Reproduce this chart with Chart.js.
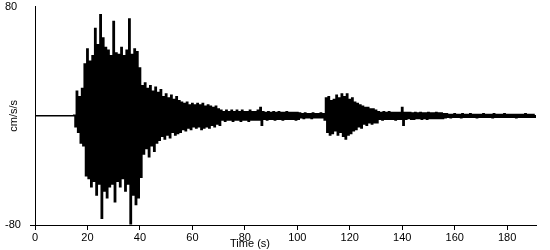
<!DOCTYPE html>
<html>
<head>
<meta charset="utf-8">
<script src="https://cdn.jsdelivr.net/npm/chart.js@4"></script>
<style>
  html, body { margin: 0; padding: 0; background: #fff; }
  #chart { display: block; }
</style>
</head>
<body>
<canvas id="chart" width="550" height="250"></canvas>
<script>
// acceleration record, one peak every 0.5 s (up, down, up, down ...)
const dt = 0.5;

// 0 - 15.5 s : before the arrival
const preEvent = [
    0, 0, 0, 0, 0, 0, 0, 0, 0, 0, 0, 0, 0, 0, 0, 0, 0, 0, 0, 0,
    0, 0, 0, 0, 0, 0, 0, 0, 0, 0, 0.4, -8
];

// 16 - 40.5 s : strong motion
const strongMotion = [
    18, -12, 14, -20, 20, -22, 38, -44, 49, -46, 40, -52, 44, -48, 64, -58, 52, -50, 74, -75,
    57, -55, 50, -60, 48, -52, 44, -50, 69, -63, 46, -48, 45, -52, 50, -46, 44, -55, 48, -50,
    71, -79, 45, -58, 49, -65, 47, -60, 35, -45
];

// 41 - 70.5 s : decay
const decay = [
    22, -28, 24, -24, 20, -30, 22, -22, 18, -26, 21, -20, 17, -18, 19, -15, 14, -17, 16, -14,
    13, -16, 15, -12, 12, -14, 14, -13, 11, -12, 10, -10, 9, -11, 10, -9, 8, -10, 9, -8,
    8, -9, 9, -8, 8, -10, 9, -9, 7, -8, 8, -9, 7, -7, 6, -8, 7, -6, 5, -7
];

// 71 - 110.5 s : coda
const coda = [
    4, -3, 3, -4, 4, -3, 3, -3, 4, -4, 3, -3, 4, -3, 3, -4, 4, -3, 3, -3,
    3, -4, 4, -3, 3, -3, 3, -3, 4, -3, 6, -7, 3, -2.5, 2.5, -3, 3, -2.5, 2.5, -2.5,
    3, -3, 2.5, -2.5, 3, -2.5, 2.5, -3, 2.5, -2.5, 3, -2.5, 2.5, -2.5, 2.5, -2.5, 2.5, -3, 2.5, -2.5,
    2, -1.5, 1.5, -2, 2, -1.5, 1.5, -1.5, 1.5, -2, 2, -1.5, 1.5, -1.5, 1.5, -1.5, 2, -1.5, 1.5, -3
];

// 111 - 130.5 s : second arrival
const secondArrival = [
    13, -12, 14, -14, 11, -13, 12, -11, 15, -14, 13, -12, 16, -15, 14, -17, 16, -14, 12, -13,
    13, -11, 10, -10, 9, -8, 8, -9, 7, -6, 6, -7, 6, -5, 5, -6, 5, -5, 4, -5
];

// 131 - 191 s : tail
const tail = [
    3, -2.5, 2.5, -3, 3, -2.5, 2.5, -2.5, 3, -2.5, 2.5, -2.5, 2.5, -3, 2.5, -2.5, 2.5, -2.5, 6, -7,
    2.5, -2.5, 2.5, -2, 2.5, -2.5, 2, -2.5, 2.5, -2, 2, -2, 2.5, -2.5, 2, -2, 2, -2.5, 2.5, -2,
    2, -2, 2, -2, 2.5, -2, 2, -2, 2, -2, 1.5, -1.5, 1.5, -1, 1, -1.5, 1, -1, 1.5, -1,
    1, -1, 1, -1.5, 1.5, -1, 1, -1, 1, -1, 1.5, -1, 1, -1, 1, -1.5, 1, -1, 1, -1,
    1.5, -1, 1, -1, 1, -1, 1, -1.5, 1.5, -1, 1, -1, 1, -1, 1, -1, 1.5, -1, 1, -1,
    1, -1, 1, -1, 1, -1.5, 1, -1, 1, -1, 1, -1, 1.5, -1, 1, -1, 1, -1, 1, -1,
    0
];

const xTicks = [0, 20, 40, 60, 80, 100, 120, 140, 160, 180];
const yTicks = [-80, 80];

const amplitude = [].concat(preEvent, strongMotion, decay, coda, secondArrival, tail);
const points = amplitude.map((v, i) => ({ x: i * dt, y: v }));

const fuente = { family: 'Liberation Sans, Arial, sans-serif', size: 11 };

// x axis title sits left of the axis centre in the original
const tituloTiempo = {
    id: 'tituloTiempo',
    afterDraw(chart) {
        const ctx = chart.ctx;
        ctx.save();
        ctx.font = '11px Liberation Sans, Arial, sans-serif';
        ctx.fillStyle = '#000';
        ctx.textAlign = 'center';
        ctx.textBaseline = 'middle';
        ctx.fillText('Time (s)', 250, 244);
        ctx.restore();
    }
};

const ctx = document.getElementById('chart').getContext('2d');
const chart = new Chart(ctx, {
    type: 'line',
    data: {
        datasets: [{
            label: 'cm/s/s',
            data: points,
            borderColor: '#000',
            borderWidth: 1.5,
            pointRadius: 0,
            stepped: 'middle',
            fill: false
        }]
    },
    options: {
        responsive: false,
        animation: false,
        layout: {
            autoPadding: false,
            padding: { left: 5, top: 5, right: 14, bottom: 0 }
        },
        plugins: {
            legend: { display: false },
            tooltip: { enabled: false }
        },
        scales: {
            x: {
                type: 'linear',
                min: 0,
                max: 191,
                afterBuildTicks: scale => { scale.ticks = xTicks.map(v => ({ value: v })); },
                afterFit: scale => { scale.height = 25; },
                grid: { drawOnChartArea: false, tickLength: 5, color: '#000' },
                border: { color: '#000', width: 1 },
                ticks: { color: '#000', font: fuente, padding: 1, maxRotation: 0 }
            },
            y: {
                min: -80,
                max: 80,
                afterBuildTicks: scale => { scale.ticks = yTicks.map(v => ({ value: v })); },
                afterFit: scale => { scale.width = 30; },
                grid: {
                    drawOnChartArea: false,
                    tickLength: 5,
                    color: c => (c.tick && c.tick.value === -80 ? '#000' : 'rgba(0,0,0,0)')
                },
                border: { color: '#000', width: 1 },
                ticks: { color: '#000', font: fuente, crossAlign: 'far', padding: 0 },
                title: {
                    display: true,
                    text: 'cm/s/s',
                    color: '#000',
                    font: fuente,
                    padding: { top: 2, bottom: 0 }
                }
            }
        }
    },
    plugins: [tituloTiempo]
});
</script>
</body>
</html>
